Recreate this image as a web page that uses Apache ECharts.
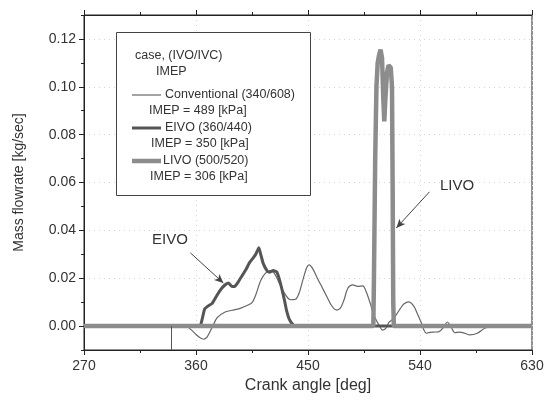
<!DOCTYPE html>
<html>
<head>
<meta charset="utf-8">
<script src="https://cdn.jsdelivr.net/npm/echarts@6/dist/echarts.min.js"></script>
<style>html,body{margin:0;padding:0;background:#fff}#c{width:556px;height:400px}</style>
</head>
<body>
<div id="c"></div>
<script>
// ---- data ----
var xTicks = [270, 360, 450, 540, 630];
var yTickLabels = [0, 0.02, 0.04, 0.06, 0.08, 0.10, 0.12];
var yMinorTicks = [-0.01, 0.01, 0.03, 0.05, 0.07, 0.09, 0.11, 0.13];

var convX = [270, 340, 352, 356, 360, 363, 366, 369, 373, 377, 383, 389, 396, 401, 405, 408, 412, 416, 420, 423, 426, 431, 436, 440, 443, 446, 449, 451, 454, 458, 461, 465, 469, 473, 476, 479, 482, 486, 490, 494, 497, 500, 503, 507, 510, 513, 515, 518, 521, 524, 527, 531, 535, 538, 541, 543, 545, 548, 551, 555, 559, 562, 565, 568, 572, 576, 580, 586, 592, 598, 630];
var convY = [0, 0, 0, -0.0015, -0.0035, -0.0048, -0.0055, -0.0045, -0.0005, 0.0035, 0.0058, 0.0066, 0.0075, 0.0086, 0.0098, 0.013, 0.019, 0.0222, 0.0232, 0.022, 0.019, 0.0138, 0.011, 0.0112, 0.014, 0.0195, 0.0245, 0.0256, 0.0238, 0.0195, 0.0165, 0.0125, 0.0085, 0.0067, 0.0075, 0.011, 0.0158, 0.0172, 0.0166, 0.0168, 0.014, 0.0095, 0.0045, 0.0004, -0.0017, -0.0006, 0.0015, 0.0028, 0.0048, 0.0072, 0.0092, 0.0101, 0.0083, 0.005, 0.0015, -0.0015, -0.003, -0.0026, -0.0025, -0.0024, -0.0004, 0.0017, -0.0004, -0.0028, -0.0025, -0.003, -0.0037, -0.003, -0.0009, 0, 0];

var eivoX = [270, 363, 365, 367, 370, 373, 377, 381, 384, 386, 389, 391, 394, 397, 400, 403, 406, 408, 410.5, 412, 414, 417, 419, 422, 425, 427, 429, 431, 433, 435, 438, 440, 630];
var eivoY = [0, 0, 0.003, 0.0072, 0.0085, 0.0095, 0.013, 0.016, 0.0175, 0.018, 0.0165, 0.0165, 0.0185, 0.021, 0.0235, 0.0265, 0.0285, 0.03, 0.0327, 0.03, 0.0262, 0.0232, 0.0225, 0.0232, 0.0225, 0.0195, 0.0155, 0.011, 0.006, 0.0028, 0.0005, 0, 0];

var livoX = [270, 502.5, 503, 504, 505, 506, 507, 508.3, 509.5, 510.5, 511.3, 512.3, 513.5, 514.7, 516.5, 517.5, 518, 518.5, 519, 630];
var livoY = [0, 0, 0.02, 0.07, 0.1, 0.11, 0.113, 0.1155, 0.112, 0.095, 0.0855, 0.096, 0.106, 0.109, 0.108, 0.1, 0.06, 0.01, 0, 0];

var seriesNames = ['Conventional (340/608)', 'EIVO (360/440)', 'LIVO (500/520)'];
var imepLabels = ['IMEP = 489 [kPa]', 'IMEP = 350 [kPa]', 'IMEP = 306 [kPa]'];

function pairs(xs, ys) { return xs.map(function (x, i) { return [x, ys[i]]; }); }

var FONT = '"Liberation Sans", Arial, sans-serif';
var chart = echarts.init(document.getElementById('c'), null, { renderer: 'canvas' });

var convColor = '#666', eivoColor = '#555', livoColor = '#8c8c8c';

var option = {
  animation: false,
  backgroundColor: '#fff',
  textStyle: { fontFamily: FONT },
  grid: { left: 84, right: 24, top: 15, bottom: 50, show: true, borderColor: '#222', borderWidth: 1 },
  xAxis: [{
    type: 'value', min: 270, max: 630, interval: 90, position: 'bottom',
    name: 'Crank angle [deg]', nameLocation: 'middle', nameGap: 26,
    nameTextStyle: { fontSize: 16, color: '#333', fontFamily: FONT },
    axisLine: { onZero: false, lineStyle: { color: '#222' } },
    axisTick: { length: 5, lineStyle: { color: '#222' } },
    minorTick: { show: true, splitNumber: 2, length: 3, lineStyle: { color: '#222' } },
    axisLabel: { fontSize: 14, color: '#333', margin: 9, fontFamily: FONT },
    splitLine: { show: true, lineStyle: { color: '#d6d6d6', type: [1, 4] } }
  }, {
    type: 'value', min: 270, max: 630, interval: 90, position: 'top',
    axisLine: { onZero: false, lineStyle: { color: '#222' } },
    axisTick: { length: 5, lineStyle: { color: '#222' } },
    minorTick: { show: true, splitNumber: 2, length: 3, lineStyle: { color: '#222' } },
    axisLabel: { show: false }, splitLine: { show: false }
  }],
  yAxis: [{
    type: 'value', min: -0.01, max: 0.13, position: 'left',
    name: 'Mass flowrate [kg/sec]', nameLocation: 'middle', nameGap: 58,
    nameTextStyle: { fontSize: 14, color: '#333', fontFamily: FONT },
    axisLine: { show: true, onZero: false, lineStyle: { color: '#222' } },
    axisTick: { show: true, length: 5, customValues: yTickLabels, lineStyle: { color: '#222' } },
    axisLabel: { fontSize: 14, color: '#333', margin: 8, fontFamily: FONT, customValues: yTickLabels,
      formatter: function (v) { return v.toFixed(2); } },
    splitLine: { show: true, lineStyle: { color: '#d6d6d6', type: [1, 4] } }
  }, {
    type: 'value', min: -0.01, max: 0.13, position: 'left', offset: 0,
    axisLine: { show: false, onZero: false },
    axisTick: { show: true, length: 3, customValues: yMinorTicks, lineStyle: { color: '#222' } },
    axisLabel: { show: false }, splitLine: { show: false }
  }],
  series: [{
    name: seriesNames[0], type: 'line', data: pairs(convX, convY), showSymbol: false, smooth: 0.3,
    lineStyle: { color: convColor, width: 1.2 }, z: 2,
    markLine: {
      silent: true, symbol: ['none', 'none'], label: { show: false },
      lineStyle: { color: '#555', width: 1, type: 'solid' },
      data: [[{ coord: [340, -0.01] }, { coord: [340, 0] }]]
    }
  }, {
    name: seriesNames[1], type: 'line', data: pairs(eivoX, eivoY), showSymbol: false, smooth: 0.15,
    lineStyle: { color: eivoColor, width: 3 }, z: 3,
    markLine: {
      silent: true, symbol: ['none', 'arrow'], symbolSize: [6, 9], label: { show: false },
      lineStyle: { color: '#444', width: 1, type: 'solid' },
      data: [[{ coord: [355.5, 0.0306] }, { coord: [382, 0.018] }]]
    }
  }, {
    name: seriesNames[2], type: 'line', data: pairs(livoX, livoY), showSymbol: false,
    lineStyle: { color: livoColor, width: 4.5 }, z: 4,
    markLine: {
      silent: true, symbol: ['none', 'arrow'], symbolSize: [6, 9], label: { show: false },
      lineStyle: { color: '#444', width: 1, type: 'solid' },
      data: [[{ coord: [547.6, 0.0561] }, { coord: [521, 0.041] }]]
    }
  }],
  graphic: [
    { type: 'rect', shape: { x: 116.5, y: 32.5, width: 194, height: 163 }, style: { fill: '#fff', stroke: '#444', lineWidth: 1 }, z: 10 },
    { type: 'text', x: 135, y: 56, style: { text: 'case, (IVO/IVC)', font: '12.5px ' + FONT, fill: '#333', textVerticalAlign: 'middle' }, z: 11 },
    { type: 'text', x: 156, y: 72, style: { text: 'IMEP', font: '12.5px ' + FONT, fill: '#333', textVerticalAlign: 'middle' }, z: 11 },
    { type: 'line', shape: { x1: 132, y1: 95, x2: 161, y2: 95 }, style: { stroke: convColor, lineWidth: 1.2 }, z: 11 },
    { type: 'text', x: 165, y: 95, style: { text: seriesNames[0], font: '12.5px ' + FONT, fill: '#333', textVerticalAlign: 'middle' }, z: 11 },
    { type: 'text', x: 149, y: 111, style: { text: imepLabels[0], font: '12.5px ' + FONT, fill: '#333', textVerticalAlign: 'middle' }, z: 11 },
    { type: 'line', shape: { x1: 132, y1: 128, x2: 161, y2: 128 }, style: { stroke: eivoColor, lineWidth: 3 }, z: 11 },
    { type: 'text', x: 165, y: 128, style: { text: seriesNames[1], font: '12.5px ' + FONT, fill: '#333', textVerticalAlign: 'middle' }, z: 11 },
    { type: 'text', x: 151, y: 144, style: { text: imepLabels[1], font: '12.5px ' + FONT, fill: '#333', textVerticalAlign: 'middle' }, z: 11 },
    { type: 'line', shape: { x1: 132, y1: 161, x2: 161, y2: 161 }, style: { stroke: livoColor, lineWidth: 4.5 }, z: 11 },
    { type: 'text', x: 163, y: 161, style: { text: seriesNames[2], font: '12.5px ' + FONT, fill: '#333', textVerticalAlign: 'middle' }, z: 11 },
    { type: 'text', x: 150, y: 177, style: { text: imepLabels[2], font: '12.5px ' + FONT, fill: '#333', textVerticalAlign: 'middle' }, z: 11 },
    { type: 'text', x: 152, y: 240, style: { text: 'EIVO', font: '15px ' + FONT, fill: '#333', textVerticalAlign: 'middle' }, z: 11 },
    { type: 'text', x: 440, y: 186, style: { text: 'LIVO', font: '15px ' + FONT, fill: '#333', textVerticalAlign: 'middle' }, z: 11 }
  ]
};
chart.setOption(option);
</script>
</body>
</html>
